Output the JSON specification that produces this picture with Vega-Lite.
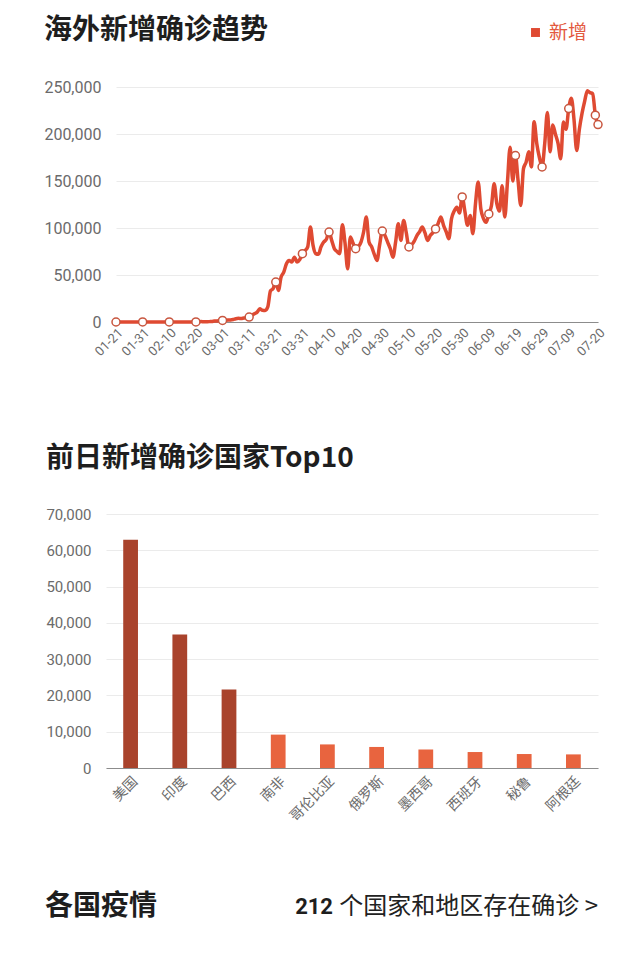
{
  "$schema": "https://vega.github.io/schema/vega-lite/v6.json",
  "background": "white",
  "padding": {"left": 43, "top": 17, "right": 0, "bottom": 0},
  "config": {
    "view": {"stroke": null},
    "font": "Noto Sans CJK SC",
    "title": {"anchor": "start", "frame": "bounds", "fontSize": 28, "fontWeight": "bold", "color": "#1e1e1e", "font": "Noto Sans CJK SC"},
    "axis": {"labelFont": "Roboto", "labelColor": "#6b6b6b", "gridColor": "#ebebeb", "domainColor": "#8c8c8c", "ticks": false, "title": null, "labelOverlap": false}
  },
  "spacing": 69,
  "vconcat": [
    {
      "spacing": 86,
      "vconcat": [
        {
          "width": 492,
          "height": 235,
          "title": {"text": "海外新增确诊趋势", "offset": 34},
          "data": {
            "format": {"parse": {"date": "date:'%Y-%m-%d'"}},
            "values": [
              {"date": "2020-01-21", "v": 4}, {"date": "2020-01-22", "v": 5}, {"date": "2020-01-23", "v": 9}, {"date": "2020-01-24", "v": 11},
              {"date": "2020-01-25", "v": 17}, {"date": "2020-01-26", "v": 12}, {"date": "2020-01-27", "v": 10}, {"date": "2020-01-28", "v": 20},
              {"date": "2020-01-29", "v": 14}, {"date": "2020-01-30", "v": 19}, {"date": "2020-01-31", "v": 25},
              {"date": "2020-02-01", "v": 12}, {"date": "2020-02-02", "v": 10}, {"date": "2020-02-03", "v": 15}, {"date": "2020-02-04", "v": 18},
              {"date": "2020-02-05", "v": 26}, {"date": "2020-02-06", "v": 28}, {"date": "2020-02-07", "v": 55}, {"date": "2020-02-08", "v": 32},
              {"date": "2020-02-09", "v": 22}, {"date": "2020-02-10", "v": 40}, {"date": "2020-02-11", "v": 7}, {"date": "2020-02-12", "v": 40},
              {"date": "2020-02-13", "v": 110}, {"date": "2020-02-14", "v": 25}, {"date": "2020-02-15", "v": 45}, {"date": "2020-02-16", "v": 70},
              {"date": "2020-02-17", "v": 90}, {"date": "2020-02-18", "v": 40}, {"date": "2020-02-19", "v": 130}, {"date": "2020-02-20", "v": 90},
              {"date": "2020-02-21", "v": 230}, {"date": "2020-02-22", "v": 440}, {"date": "2020-02-23", "v": 250}, {"date": "2020-02-24", "v": 300},
              {"date": "2020-02-25", "v": 400}, {"date": "2020-02-26", "v": 480}, {"date": "2020-02-27", "v": 1000}, {"date": "2020-02-28", "v": 1100},
              {"date": "2020-02-29", "v": 1500},
              {"date": "2020-03-01", "v": 1700}, {"date": "2020-03-02", "v": 1800}, {"date": "2020-03-03", "v": 2100}, {"date": "2020-03-04", "v": 2200},
              {"date": "2020-03-05", "v": 2700}, {"date": "2020-03-06", "v": 3500}, {"date": "2020-03-07", "v": 3900}, {"date": "2020-03-08", "v": 3700},
              {"date": "2020-03-09", "v": 4200}, {"date": "2020-03-10", "v": 4400}, {"date": "2020-03-11", "v": 5300}, {"date": "2020-03-12", "v": 7000},
              {"date": "2020-03-13", "v": 8800}, {"date": "2020-03-14", "v": 10500}, {"date": "2020-03-15", "v": 14000}, {"date": "2020-03-16", "v": 12500},
              {"date": "2020-03-17", "v": 12300}, {"date": "2020-03-18", "v": 16000}, {"date": "2020-03-19", "v": 33000}, {"date": "2020-03-20", "v": 35500},
              {"date": "2020-03-21", "v": 42500}, {"date": "2020-03-22", "v": 33600}, {"date": "2020-03-23", "v": 47900}, {"date": "2020-03-24", "v": 53000},
              {"date": "2020-03-25", "v": 62000}, {"date": "2020-03-26", "v": 65500}, {"date": "2020-03-27", "v": 63800}, {"date": "2020-03-28", "v": 69000},
              {"date": "2020-03-29", "v": 63800}, {"date": "2020-03-30", "v": 66500}, {"date": "2020-03-31", "v": 72700},
              {"date": "2020-04-01", "v": 76000}, {"date": "2020-04-02", "v": 80000}, {"date": "2020-04-03", "v": 101000}, {"date": "2020-04-04", "v": 81500},
              {"date": "2020-04-05", "v": 72700}, {"date": "2020-04-06", "v": 72000}, {"date": "2020-04-07", "v": 80000}, {"date": "2020-04-08", "v": 85000},
              {"date": "2020-04-09", "v": 88000}, {"date": "2020-04-10", "v": 95700}, {"date": "2020-04-11", "v": 86800}, {"date": "2020-04-12", "v": 78000},
              {"date": "2020-04-13", "v": 75000}, {"date": "2020-04-14", "v": 72700}, {"date": "2020-04-15", "v": 103500}, {"date": "2020-04-16", "v": 84000},
              {"date": "2020-04-17", "v": 56700}, {"date": "2020-04-18", "v": 90400}, {"date": "2020-04-19", "v": 84000}, {"date": "2020-04-20", "v": 78000},
              {"date": "2020-04-21", "v": 80000}, {"date": "2020-04-22", "v": 85000}, {"date": "2020-04-23", "v": 96000}, {"date": "2020-04-24", "v": 111700},
              {"date": "2020-04-25", "v": 85000}, {"date": "2020-04-26", "v": 80000}, {"date": "2020-04-27", "v": 72000}, {"date": "2020-04-28", "v": 65500},
              {"date": "2020-04-29", "v": 82000}, {"date": "2020-04-30", "v": 96800},
              {"date": "2020-05-01", "v": 92000}, {"date": "2020-05-02", "v": 85000}, {"date": "2020-05-03", "v": 78000}, {"date": "2020-05-04", "v": 69000},
              {"date": "2020-05-05", "v": 85000}, {"date": "2020-05-06", "v": 104600}, {"date": "2020-05-07", "v": 86800}, {"date": "2020-05-08", "v": 108000},
              {"date": "2020-05-09", "v": 95000}, {"date": "2020-05-10", "v": 79800}, {"date": "2020-05-11", "v": 82000}, {"date": "2020-05-12", "v": 86000},
              {"date": "2020-05-13", "v": 92000}, {"date": "2020-05-14", "v": 96000}, {"date": "2020-05-15", "v": 101000}, {"date": "2020-05-16", "v": 95000},
              {"date": "2020-05-17", "v": 86800}, {"date": "2020-05-18", "v": 92000}, {"date": "2020-05-19", "v": 95000}, {"date": "2020-05-20", "v": 99000},
              {"date": "2020-05-21", "v": 105000}, {"date": "2020-05-22", "v": 111700}, {"date": "2020-05-23", "v": 102800}, {"date": "2020-05-24", "v": 96000},
              {"date": "2020-05-25", "v": 88600}, {"date": "2020-05-26", "v": 110000}, {"date": "2020-05-27", "v": 118000}, {"date": "2020-05-28", "v": 122000},
              {"date": "2020-05-29", "v": 116000}, {"date": "2020-05-30", "v": 133000}, {"date": "2020-05-31", "v": 118000},
              {"date": "2020-06-01", "v": 102800}, {"date": "2020-06-02", "v": 113400}, {"date": "2020-06-03", "v": 94000}, {"date": "2020-06-04", "v": 126000},
              {"date": "2020-06-05", "v": 149000}, {"date": "2020-06-06", "v": 120500}, {"date": "2020-06-07", "v": 110000}, {"date": "2020-06-08", "v": 106000},
              {"date": "2020-06-09", "v": 115000}, {"date": "2020-06-10", "v": 124000}, {"date": "2020-06-11", "v": 147000}, {"date": "2020-06-12", "v": 126000},
              {"date": "2020-06-13", "v": 118000}, {"date": "2020-06-14", "v": 145000}, {"date": "2020-06-15", "v": 111700}, {"date": "2020-06-16", "v": 149000},
              {"date": "2020-06-17", "v": 186000}, {"date": "2020-06-18", "v": 150000}, {"date": "2020-06-19", "v": 177000}, {"date": "2020-06-20", "v": 150000},
              {"date": "2020-06-21", "v": 124000}, {"date": "2020-06-22", "v": 163000}, {"date": "2020-06-23", "v": 170000}, {"date": "2020-06-24", "v": 181000},
              {"date": "2020-06-25", "v": 165000}, {"date": "2020-06-26", "v": 213000}, {"date": "2020-06-27", "v": 190000}, {"date": "2020-06-28", "v": 175000},
              {"date": "2020-06-29", "v": 165000}, {"date": "2020-06-30", "v": 190000},
              {"date": "2020-07-01", "v": 223000}, {"date": "2020-07-02", "v": 181000}, {"date": "2020-07-03", "v": 209600}, {"date": "2020-07-04", "v": 200000},
              {"date": "2020-07-05", "v": 190000}, {"date": "2020-07-06", "v": 173700}, {"date": "2020-07-07", "v": 212800}, {"date": "2020-07-08", "v": 205000},
              {"date": "2020-07-09", "v": 227000}, {"date": "2020-07-10", "v": 238000}, {"date": "2020-07-11", "v": 215000}, {"date": "2020-07-12", "v": 182500},
              {"date": "2020-07-13", "v": 205000}, {"date": "2020-07-14", "v": 222000}, {"date": "2020-07-15", "v": 235000}, {"date": "2020-07-16", "v": 246000},
              {"date": "2020-07-17", "v": 244000}, {"date": "2020-07-18", "v": 243000}, {"date": "2020-07-19", "v": 220000}, {"date": "2020-07-20", "v": 210000}
            ]
          },
          "layer": [
            {
              "mark": {"type": "line", "strokeWidth": 3.5, "interpolate": "monotone"},
              "encoding": {
                "x": {
                  "field": "date", "type": "temporal",
                  "scale": {"domain": [{"year": 2020, "month": 1, "date": 21}, {"year": 2020, "month": 7, "date": 20}], "range": [10, 492]},
                  "axis": {
                    "format": "%m-%d", "labelAngle": -45, "labelFontSize": 13, "labelPadding": 4, "labelOverlap": false, "tickCount": 40, "grid": false,
                    "values": [
                      {"year": 2020, "month": 1, "date": 21}, {"year": 2020, "month": 1, "date": 31}, {"year": 2020, "month": 2, "date": 10},
                      {"year": 2020, "month": 2, "date": 20}, {"year": 2020, "month": 3, "date": 1}, {"year": 2020, "month": 3, "date": 11},
                      {"year": 2020, "month": 3, "date": 21}, {"year": 2020, "month": 3, "date": 31}, {"year": 2020, "month": 4, "date": 10},
                      {"year": 2020, "month": 4, "date": 20}, {"year": 2020, "month": 4, "date": 30}, {"year": 2020, "month": 5, "date": 10},
                      {"year": 2020, "month": 5, "date": 20}, {"year": 2020, "month": 5, "date": 30}, {"year": 2020, "month": 6, "date": 9},
                      {"year": 2020, "month": 6, "date": 19}, {"year": 2020, "month": 6, "date": 29}, {"year": 2020, "month": 7, "date": 9},
                      {"year": 2020, "month": 7, "date": 20}
                    ]
                  }
                },
                "y": {
                  "field": "v", "type": "quantitative",
                  "scale": {"domain": [0, 250000], "nice": false},
                  "axis": {"values": [0, 50000, 100000, 150000, 200000, 250000], "format": ",d", "labelFontSize": 16, "labelPadding": 5, "domain": false, "grid": true}
                },
                "color": {
                  "datum": "新增",
                  "scale": {"range": ["#df4a32"]},
                  "legend": {
                    "orient": "none", "legendX": 420, "legendY": -64, "title": null,
                    "symbolType": "square", "symbolSize": 80, "symbolStrokeWidth": 0,
                    "labelFontSize": 19, "labelColor": "#e35a40", "labelFont": "Noto Sans CJK SC",
                    "encode": {"symbols": {"update": {"fill": {"value": "#df4a32"}, "stroke": {"value": "#df4a32"}}}}
                  }
                }
              }
            },
            {
              "transform": [
                {"filter": "round((time(datum.date) - time(datetime(2020,0,21))) / 86400000) % 10 == 0 || round((time(datum.date) - time(datetime(2020,0,21))) / 86400000) == 181"}
              ],
              "mark": {"type": "point", "filled": true, "fill": "white", "stroke": "#c8563f", "strokeWidth": 1.5, "size": 64, "opacity": 1},
              "encoding": {
                "x": {"field": "date", "type": "temporal"},
                "y": {"field": "v", "type": "quantitative"}
              }
            }
          ]
        },
        {
          "width": 492,
          "height": 254,
          "title": {"text": "前日新增确诊国家Top10", "offset": 34},
          "data": {
            "values": [
              {"country": "美国", "value": 62900},
              {"country": "印度", "value": 36800},
              {"country": "巴西", "value": 21600},
              {"country": "南非", "value": 9200},
              {"country": "哥伦比亚", "value": 6500},
              {"country": "俄罗斯", "value": 5800},
              {"country": "墨西哥", "value": 5100},
              {"country": "西班牙", "value": 4400},
              {"country": "秘鲁", "value": 3850},
              {"country": "阿根廷", "value": 3750}
            ]
          },
          "mark": {"type": "bar"},
          "encoding": {
            "x": {
              "field": "country", "type": "nominal", "sort": null,
              "scale": {"paddingInner": 0.7, "paddingOuter": 0.35},
              "axis": {"labelAngle": -45, "labelFont": "Noto Sans CJK SC", "labelFontSize": 14, "labelPadding": 6, "grid": false}
            },
            "y": {
              "field": "value", "type": "quantitative",
              "scale": {"domain": [0, 70000], "nice": false},
              "axis": {"values": [0, 10000, 20000, 30000, 40000, 50000, 60000, 70000], "format": ",d", "labelFontSize": 15, "labelPadding": 15, "domain": false, "grid": true}
            },
            "color": {"condition": {"test": "datum.value > 20000", "value": "#a9432c"}, "value": "#e8643f"}
          }
        }
      ]
    },
    {
      "width": 492,
      "height": 28,
      "data": {
        "values": [
          {"label": "各国疫情", "role": "heading", "side": "left"},
          {"label": "212", "role": "count", "side": "right"},
          {"label": "个国家和地区存在确诊 >", "role": "desc", "side": "right"}
        ]
      },
      "encoding": {
        "x": {"field": "side", "type": "nominal", "scale": {"type": "point", "padding": 0, "domain": ["left", "right"], "range": [-61, 492]}, "axis": null},
        "text": {"field": "label"}
      },
      "layer": [
        {"transform": [{"filter": "datum.role == 'heading'"}], "mark": {"type": "text", "align": "left", "baseline": "middle", "fontSize": 28, "fontWeight": "bold", "color": "#1e1e1e", "font": "Noto Sans CJK SC"}},
        {"transform": [{"filter": "datum.role == 'desc'"}], "mark": {"type": "text", "align": "right", "baseline": "middle", "fontSize": 24, "color": "#222222", "font": "Noto Sans CJK SC"}},
        {"transform": [{"filter": "datum.role == 'count'"}], "mark": {"type": "text", "align": "right", "baseline": "middle", "fontSize": 22, "fontWeight": "bold", "color": "#1e1e1e", "font": "Roboto", "dx": -265}}
      ]
    }
  ]
}
